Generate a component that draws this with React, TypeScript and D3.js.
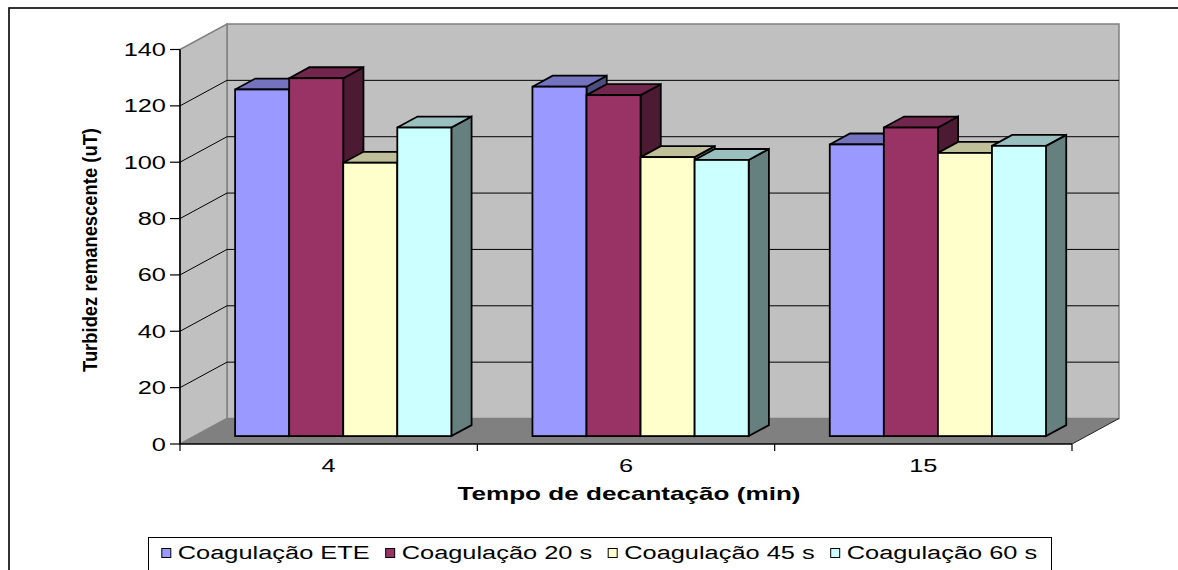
import React, { useEffect, useRef } from 'react';
import * as d3 from 'd3';

// Sedimentation time categories (minutes)
const categories = ['4', '6', '15'];

// Series names and remaining turbidity values (uT)
const seriesNames = ['Coagulação ETE', 'Coagulação 20 s', 'Coagulação 45 s', 'Coagulação 60 s'];
const coagEte = [123, 124, 103.5];
const coag20 = [127, 121, 109.5];
const coag45 = [97, 99, 100.5];
const coag60 = [109.5, 98, 103];
const seriesValues = [coagEte, coag20, coag45, coag60];
const seriesColors = ['#9999FF', '#993366', '#FFFFCC', '#CCFFFF'];

const yTicks = [0, 20, 40, 60, 80, 100, 120, 140];
const xTitle = 'Tempo de decantação (min)';
const yTitle = 'Turbidez remanescente (uT)';

const W = 1178;
const H = 570;
const FONT = '"Liberation Sans", Arial, sans-serif';
const SX = 1.41; // horizontal stretch applied to text

function shade(c: string, k: number) {
  const r = d3.rgb(c);
  return d3.rgb(r.r * k, r.g * k, r.b * k).formatHex();
}

export default function App() {
  const ref = useRef<SVGSVGElement>(null);

  useEffect(() => {
    const svg = d3.select(ref.current);
    svg.selectAll('*').remove();

    const left = 180;
    const right = 1072;
    const y = d3.scaleLinear().domain([0, 140]).range([444, 49.5]);
    const dx = 47;
    const dy = -25.5;
    const f0 = 0.31;
    const f1 = 0.74;

    const x0 = d3.scaleBand<string>().domain(categories).range([left, right]);
    const bw = x0.bandwidth();
    const barW = bw / 5.5;
    const x1 = d3.scaleBand<string>().domain(seriesNames).range([0.75 * barW, bw - 0.75 * barW]);

    const pts = (p: number[][]) => p.map((q) => q.join(',')).join(' ');

    // outer chart frame
    svg.append('rect').attr('x', 9).attr('y', 8).attr('width', W + 20).attr('height', H + 20)
      .attr('fill', '#fff').attr('stroke', '#000').attr('stroke-width', 1.6);

    const y0 = y(0);
    const yTop = y(140);

    // back wall
    svg.append('rect').attr('x', left + dx).attr('y', yTop + dy).attr('width', right - left)
      .attr('height', y0 - yTop).attr('fill', '#C0C0C0').attr('stroke', '#808080').attr('stroke-width', 1.5);
    // side wall
    svg.append('polygon').attr('points', pts([[left, y0], [left, yTop], [left + dx, yTop + dy], [left + dx, y0 + dy]]))
      .attr('fill', '#C0C0C0').attr('stroke', '#808080').attr('stroke-width', 1.5);
    // floor
    svg.append('polygon').attr('points', pts([[left, y0], [right, y0], [right + dx, y0 + dy], [left + dx, y0 + dy]]))
      .attr('fill', '#808080').attr('stroke', 'none');
    svg.append('line').attr('x1', right).attr('y1', y0).attr('x2', right + dx).attr('y2', y0 + dy)
      .attr('stroke', '#222').attr('stroke-width', 1);

    // gridlines on walls
    yTicks.filter((t) => t > 0 && t < 140).forEach((t) => {
      const yy = y(t);
      svg.append('line').attr('x1', left).attr('y1', yy).attr('x2', left + dx).attr('y2', yy + dy)
        .attr('stroke', '#000').attr('stroke-width', 1);
      svg.append('line').attr('x1', left + dx).attr('y1', yy + dy).attr('x2', right + dx).attr('y2', yy + dy)
        .attr('stroke', '#000').attr('stroke-width', 1);
    });

    // bars
    const bdx = dx * (f1 - f0);
    const bdy = dy * (f1 - f0);
    categories.forEach((c, ci) => {
      seriesNames.forEach((s, si) => {
        const v = seriesValues[si][ci];
        const color = seriesColors[si];
        const xl = (x0(c) as number) + (x1(s) as number) + dx * f0;
        const xr = xl + barW;
        const yb = y(0) + dy * f0;
        const yt = y(v) + dy * f0;
        const g = svg.append('g').attr('stroke', '#000').attr('stroke-width', 1.8).attr('stroke-linejoin', 'miter');
        g.append('polygon').attr('points', pts([[xr, yt], [xr + bdx, yt + bdy], [xr + bdx, yb + bdy], [xr, yb]]))
          .attr('fill', shade(color, 0.5));
        g.append('polygon').attr('points', pts([[xl, yt], [xr, yt], [xr + bdx, yt + bdy], [xl + bdx, yt + bdy]]))
          .attr('fill', shade(color, 0.75));
        g.append('rect').attr('x', xl).attr('y', yt).attr('width', barW).attr('height', yb - yt)
          .attr('fill', color);
      });
    });

    // front floor edge and category ticks
    svg.append('line').attr('x1', left).attr('y1', y0).attr('x2', right).attr('y2', y0)
      .attr('stroke', '#000').attr('stroke-width', 1.6);
    [...categories.map((c) => x0(c) as number), right].forEach((xx) => {
      svg.append('line').attr('x1', xx).attr('y1', y0).attr('x2', xx).attr('y2', y0 + 7)
        .attr('stroke', '#000').attr('stroke-width', 1.2);
    });

    // value axis
    svg.append('line').attr('x1', left).attr('y1', yTop).attr('x2', left).attr('y2', y0)
      .attr('stroke', '#000').attr('stroke-width', 1.6);
    yTicks.forEach((t) => {
      svg.append('line').attr('x1', left - 10).attr('y1', y(t)).attr('x2', left).attr('y2', y(t))
        .attr('stroke', '#000').attr('stroke-width', 1.2);
      svg.append('text').text(String(t))
        .attr('transform', `translate(${left - 14},${y(t) + 6.5}) scale(${SX},1)`)
        .attr('text-anchor', 'end').attr('font-family', FONT).attr('font-size', 18).attr('fill', '#000');
    });

    // category labels
    categories.forEach((c) => {
      svg.append('text').text(c)
        .attr('transform', `translate(${(x0(c) as number) + bw / 2},${472}) scale(${SX},1)`)
        .attr('text-anchor', 'middle').attr('font-family', FONT).attr('font-size', 18).attr('fill', '#000');
    });

    // axis titles
    svg.append('text').text(xTitle)
      .attr('transform', `translate(${(left + right) / 2 + 3},${500}) scale(1.45,1)`)
      .attr('text-anchor', 'middle').attr('font-family', FONT).attr('font-size', 18)
      .attr('font-weight', 'bold').attr('fill', '#000');
    svg.append('text').text(yTitle)
      .attr('transform', `translate(97,250) rotate(-90) scale(1,1.12)`)
      .attr('text-anchor', 'middle').attr('font-family', FONT).attr('font-size', 18)
      .attr('font-weight', 'bold').attr('textLength', 244).attr('lengthAdjust', 'spacingAndGlyphs')
      .attr('fill', '#000');

    // legend
    const boxL = 148;
    const boxR = 1051;
    svg.append('rect').attr('x', boxL + 0.5).attr('y', 537.5).attr('width', boxR - boxL).attr('height', 50)
      .attr('fill', '#fff').attr('stroke', '#000').attr('stroke-width', 1);
    const lg = svg.append('g');
    const items = seriesNames.map((name) => {
      const t = lg.append('text').text(name).attr('font-family', FONT).attr('font-size', 18).attr('fill', '#000');
      const w = (t.node() as SVGTextElement).getComputedTextLength() * SX;
      return { t, w };
    });
    const sw = 9;
    const swGap = 7;
    const itemGap = 16;
    const total = d3.sum(items, (d) => sw + swGap + d.w) + itemGap * (items.length - 1);
    let cx = (boxL + boxR) / 2 - total / 2;
    items.forEach((it, i) => {
      lg.append('rect').attr('x', cx).attr('y', 548.5).attr('width', sw).attr('height', sw)
        .attr('fill', seriesColors[i]).attr('stroke', '#000').attr('stroke-width', 1);
      it.t.attr('transform', `translate(${cx + sw + swGap},559) scale(${SX},1)`);
      cx += sw + swGap + it.w + itemGap;
    });
  }, []);

  return (
    <svg
      ref={ref}
      width={W}
      height={H}
      style={{ position: 'absolute', left: 0, top: 0, background: '#fff', display: 'block' }}
    />
  );
}
